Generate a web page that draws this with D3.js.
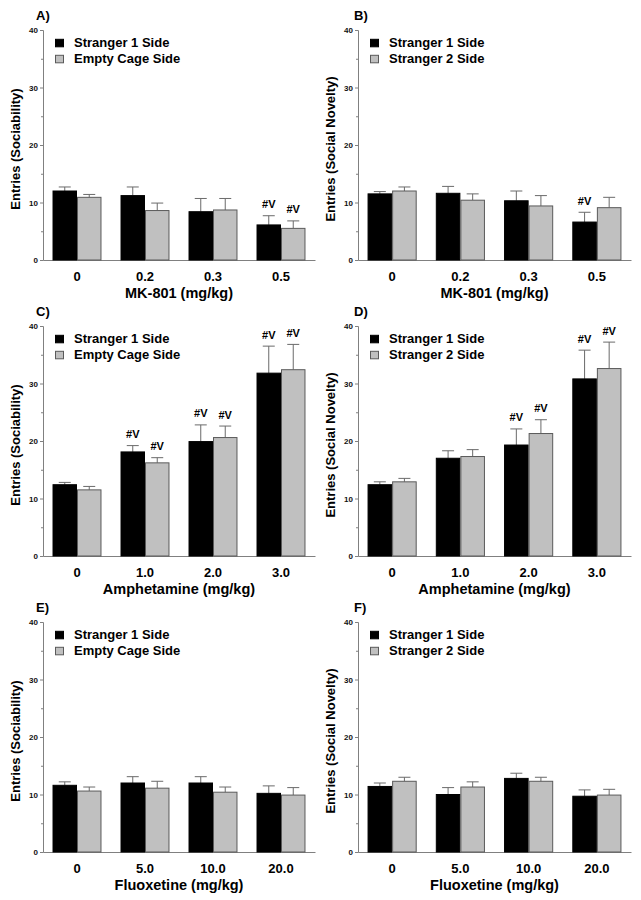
<!DOCTYPE html>
<html>
<head>
<meta charset="utf-8">
<script src="https://cdn.jsdelivr.net/npm/d3@7"></script>
<style>
  html, body { margin: 0; padding: 0; background: #fff; }
  svg { display: block; }
  text { font-family: "Liberation Sans", Arial, Helvetica, sans-serif; font-weight: bold; }
</style>
</head>
<body>
<svg id="chart" width="641" height="900"></svg>
<script>
// ---------- DATA ----------
const panelLabels = ["A)", "B)", "C)", "D)", "E)", "F)"];
const drugTitles = ["MK-801 (mg/kg)", "MK-801 (mg/kg)", "Amphetamine (mg/kg)", "Amphetamine (mg/kg)", "Fluoxetine (mg/kg)", "Fluoxetine (mg/kg)"];
const yTitles = ["Entries (Sociability)", "Entries (Social Novelty)", "Entries (Sociability)", "Entries (Social Novelty)", "Entries (Sociability)", "Entries (Social Novelty)"];
const seriesNamesSoc = ["Stranger 1 Side", "Empty Cage Side"];
const seriesNamesNov = ["Stranger 1 Side", "Stranger 2 Side"];

const dosesMK = ["0", "0.2", "0.3", "0.5"];
const dosesAmph = ["0", "1.0", "2.0", "3.0"];
const dosesFlx = ["0", "5.0", "10.0", "20.0"];

const yTicks = [0, 10, 20, 30, 40];
const yMinorTicks = [5, 15, 25, 35];

// Panel A
const meanA1 = [12.0, 11.2, 8.4, 6.1];
const semA1  = [0.7, 1.5, 2.3, 1.6];
const meanA2 = [10.9, 8.6, 8.7, 5.5];
const semA2  = [0.5, 1.3, 2.0, 1.3];
const sigA1 = [0, 0, 0, 1];
const sigA2 = [0, 0, 0, 1];
// Panel B
const meanB1 = [11.5, 11.6, 10.3, 6.6];
const semB1  = [0.4, 1.2, 1.7, 1.7];
const meanB2 = [12.0, 10.4, 9.4, 9.1];
const semB2  = [0.7, 1.1, 1.8, 1.8];
const sigB1 = [0, 0, 0, 1];
const sigB2 = [0, 0, 0, 0];
// Panel C
const meanC1 = [12.4, 18.1, 19.9, 31.8];
const semC1  = [0.4, 1.1, 2.9, 4.7];
const meanC2 = [11.5, 16.2, 20.6, 32.4];
const semC2  = [0.6, 0.9, 2.0, 4.4];
const sigC1 = [0, 1, 1, 1];
const sigC2 = [0, 1, 1, 1];
// Panel D
const meanD1 = [12.4, 17.0, 19.3, 30.8];
const semD1  = [0.5, 1.3, 2.8, 5.0];
const meanD2 = [12.9, 17.3, 21.3, 32.6];
const semD2  = [0.6, 1.2, 2.4, 4.6];
const sigD1 = [0, 0, 1, 1];
const sigD2 = [0, 0, 1, 1];
// Panel E
const meanE1 = [11.6, 12.0, 12.0, 10.2];
const semE1  = [0.6, 1.1, 1.1, 1.3];
const meanE2 = [10.6, 11.1, 10.4, 9.9];
const semE2  = [0.7, 1.2, 0.9, 1.3];
const sigE1 = [0, 0, 0, 0];
const sigE2 = [0, 0, 0, 0];
// Panel F
const meanF1 = [11.4, 10.0, 12.8, 9.7];
const semF1  = [0.6, 1.2, 0.9, 1.1];
const meanF2 = [12.3, 11.3, 12.3, 9.9];
const semF2  = [0.7, 0.9, 0.7, 1.0];
const sigF1 = [0, 0, 0, 0];
const sigF2 = [0, 0, 0, 0];

const sigLabel = "#V";

// ---------- PANEL TABLE (built from arrays) ----------
const panels = [
  {doses: dosesMK,   names: seriesNamesSoc, m: [meanA1, meanA2], e: [semA1, semA2], s: [sigA1, sigA2]},
  {doses: dosesMK,   names: seriesNamesNov, m: [meanB1, meanB2], e: [semB1, semB2], s: [sigB1, sigB2]},
  {doses: dosesAmph, names: seriesNamesSoc, m: [meanC1, meanC2], e: [semC1, semC2], s: [sigC1, sigC2]},
  {doses: dosesAmph, names: seriesNamesNov, m: [meanD1, meanD2], e: [semD1, semD2], s: [sigD1, sigD2]},
  {doses: dosesFlx,  names: seriesNamesSoc, m: [meanE1, meanE2], e: [semE1, semE2], s: [sigE1, sigE2]},
  {doses: dosesFlx,  names: seriesNamesNov, m: [meanF1, meanF2], e: [semF1, semF2], s: [sigF1, sigF2]}
];

// ---------- LAYOUT ----------
const colX = [{x0: 43, x1: 315}, {x0: 358, x1: 631}];
const rowTop = [30, 326, 622];
const plotH = 230;
const fills = ["#000000", "#c0c0c0"];
const strokes = ["#000000", "#5a5a5a"];
const axisColor = "#808080";

const svg = d3.select("#chart");

panels.forEach((p, i) => {
  const col = i % 2, row = Math.floor(i / 2);
  const {x0: ax0, x1: ax1} = colX[col];
  const top = rowTop[row], bottom = top + plotH;

  const g = svg.append("g");

  const y = d3.scaleLinear().domain([0, 40]).range([bottom, top]);
  const x = d3.scaleBand().domain(p.doses).range([ax0, ax1]).paddingInner(0.28).paddingOuter(0.14);
  const xs = d3.scaleBand().domain([0, 1]).range([0, x.bandwidth()]);

  // Y axis (major)
  const yAxis = g.append("g").attr("transform", `translate(${ax0},0)`)
    .call(d3.axisLeft(y).tickValues(yTicks).tickSize(3).tickPadding(2).tickFormat(d3.format("d")));
  yAxis.select(".domain").attr("stroke", axisColor);
  yAxis.selectAll(".tick line").attr("stroke", axisColor);
  yAxis.selectAll(".tick text").attr("font-size", 8).attr("fill", "#111")
    .style("font-family", '"Liberation Sans", Arial, sans-serif').style("font-weight", "bold");
  // minor ticks
  const yMinor = g.append("g").attr("transform", `translate(${ax0},0)`)
    .call(d3.axisLeft(y).tickValues(yMinorTicks).tickSize(2).tickFormat(""));
  yMinor.select(".domain").remove();
  yMinor.selectAll(".tick line").attr("stroke", axisColor);

  // X axis
  const xAxis = g.append("g").attr("transform", `translate(0,${bottom})`)
    .call(d3.axisBottom(x).tickSize(0).tickSizeOuter(0));
  xAxis.select(".domain").attr("stroke", axisColor);
  xAxis.selectAll(".tick text").attr("y", 21).attr("dy", null)
    .attr("font-size", 13).attr("fill", "#000")
    .style("font-family", '"Liberation Sans", Arial, sans-serif').style("font-weight", "bold");

  // Bars + error bars
  [0, 1].forEach(si => {
    const grp = g.append("g");
    const data = p.doses.map((d, k) => ({dose: d, v: p.m[si][k], e: p.e[si][k], s: p.s[si][k]}));
    const cx = d => x(d.dose) + xs(si) + xs.bandwidth() / 2;
    // error bars (drawn first, upward)
    grp.selectAll("line.err").data(data).enter().append("line")
      .attr("x1", cx).attr("x2", cx)
      .attr("y1", d => y(d.v)).attr("y2", d => y(d.v + d.e))
      .attr("stroke", "#6a6a6a").attr("stroke-width", 1);
    grp.selectAll("line.cap").data(data).enter().append("line")
      .attr("x1", d => cx(d) - 6).attr("x2", d => cx(d) + 6)
      .attr("y1", d => y(d.v + d.e)).attr("y2", d => y(d.v + d.e))
      .attr("stroke", "#6a6a6a").attr("stroke-width", 1);
    grp.selectAll("rect").data(data).enter().append("rect")
      .attr("x", d => x(d.dose) + xs(si) + 0.5)
      .attr("y", d => y(d.v))
      .attr("width", xs.bandwidth() - 1)
      .attr("height", d => y(0) - y(d.v))
      .attr("fill", fills[si]).attr("stroke", strokes[si]).attr("stroke-width", 1);
    grp.selectAll("text.sig").data(data.filter(d => d.s)).enter().append("text")
      .attr("x", cx).attr("y", d => y(d.v + d.e) - 7.5)
      .attr("text-anchor", "middle").attr("font-size", 11).attr("fill", "#000")
      .text(sigLabel);
  });

  // Legend
  p.names.forEach((name, si) => {
    const ly = top + 17.3 + si * 16;
    g.append("rect").attr("x", ax0 + 12.5).attr("y", ly - 8).attr("width", 8).attr("height", 7.5)
      .attr("fill", fills[si]).attr("stroke", strokes[si]).attr("stroke-width", 1);
    g.append("text").attr("x", ax0 + 31).attr("y", ly).attr("font-size", 13).attr("fill", "#000").text(name);
  });

  // Panel label
  g.append("text").attr("x", col === 0 ? 36 : 354).attr("y", top - 10)
    .attr("font-size", 13).attr("fill", "#000").text(panelLabels[i]);

  // Y title
  g.append("text")
    .attr("transform", `translate(${ax0 - 23},${(top + bottom) / 2 + 4}) rotate(-90)`)
    .attr("text-anchor", "middle").attr("font-size", 13).attr("fill", "#000").text(yTitles[i]);

  // X title
  g.append("text").attr("x", (ax0 + ax1) / 2).attr("y", bottom + 38)
    .attr("text-anchor", "middle").attr("font-size", 14.5).attr("fill", "#000").text(drugTitles[i]);
});
</script>
</body>
</html>
